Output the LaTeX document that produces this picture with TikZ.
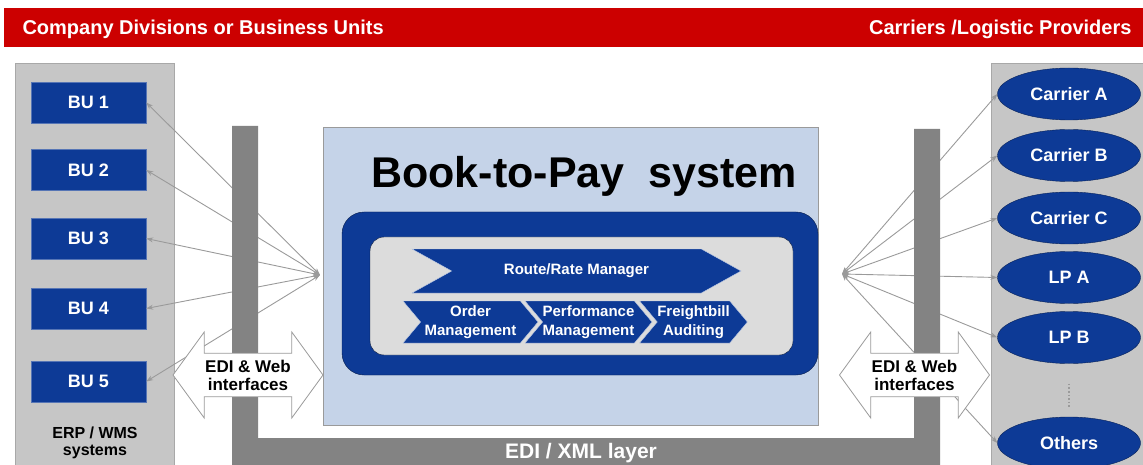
\documentclass[tikz,border=0pt]{standalone}
\usepackage{fontspec}
\setmainfont{Liberation Sans}
\usetikzlibrary{arrows.meta,positioning,shapes.geometric,shapes.symbols,shapes.arrows}
\definecolor{bannerred}{HTML}{CC0000}
\definecolor{bublue}{HTML}{0D3A96}
\definecolor{panelgrey}{HTML}{C6C6C6}
\definecolor{panelline}{HTML}{A8A8A8}
\definecolor{bargrey}{HTML}{838383}
\definecolor{linegrey}{HTML}{9A9A9A}
\definecolor{boxblue}{HTML}{C5D3E8}
\definecolor{innergrey}{HTML}{DCDCDC}

\begin{document}
\begin{tikzpicture}[x=1pt,y=-1pt,
  panel/.style={draw=panelline, fill=panelgrey, inner sep=0pt},
  bubox/.style={draw=bublue!70!white, fill=bublue, text=white, minimum width=115pt, minimum height=41pt, inner sep=0pt, font=\fontsize{18}{20}\selectfont\bfseries},
  carrier/.style={ellipse, draw=bublue!60!black, fill=bublue, text=white, minimum width=143pt, minimum height=52pt, inner sep=0pt, font=\fontsize{18}{20}\selectfont\bfseries},
  link/.style={draw=linegrey, line width=0.9pt, {Stealth[length=7pt,width=5pt]}-{Stealth[length=7pt,width=5pt]}},
  chev/.style={signal, signal from=west, signal to=east, fill=bublue, draw=white!75!bublue, text=white, inner sep=0pt, align=center},
  edi/.style={double arrow, double arrow head extend=21pt, double arrow tip angle=108, minimum height=150pt, minimum width=86pt, inner sep=6pt, fill=white, draw=linegrey, line width=0.8pt, align=center, font=\fontsize{17}{18}\selectfont\bfseries}]
\useasboundingbox (0,0) rectangle (1143,465);

% banner
\node[fill=bannerred, minimum width=1146pt, minimum height=39pt, inner sep=0pt] (banner) at (577,27.5) {};
\node[anchor=base west, text=white, font=\fontsize{20}{24}\selectfont\bfseries] (lefttitle) at (19,35) {Company Divisions or Business Units};
\node[anchor=base east, text=white, font=\fontsize{20}{24}\selectfont\bfseries] (righttitle) at (1135,35) {Carriers /Logistic Providers};

% side panels
\node[panel, minimum width=159pt, minimum height=407pt] (leftpanel) at (94.5,266.5) {};
\node[panel, minimum width=159pt, minimum height=407pt] (rightpanel) at (1070.5,266.5) {};

\node[bubox] (bu1) at (88.5,102.5) {BU 1};
\node[bubox] (bu2) at (88.5,170) {BU 2};
\node[bubox] (bu3) at (88.5,238.5) {BU 3};
\node[bubox] (bu4) at (88.5,308.5) {BU 4};
\node[bubox] (bu5) at (88.5,381.5) {BU 5};
\node[align=center, font=\fontsize{16}{17}\selectfont\bfseries] (erp) at (95,443) {ERP / WMS\\systems};

\node[carrier] (ca) at (1069,94) {Carrier A};
\node[carrier] (cb) at (1069,155.5) {Carrier B};
\node[carrier] (cc) at (1069,218) {Carrier C};
\node[carrier] (lpa) at (1069,277.5) {LP A};
\node[carrier] (lpb) at (1069,337.5) {LP B};
\node[carrier] (oth) at (1069,443) {Others};
\draw[linegrey, line width=1.6pt, dotted, shorten <=20pt, shorten >=8pt] (lpb.south) -- (oth.north);

% links
\coordinate (hubl) at (320,275);
\coordinate (hubr) at (842,274);
\foreach \b in {bu1,bu2,bu3,bu4,bu5}
  \draw[link] (hubl) -- (\b.east);
\foreach \c in {ca,cb,cc,lpa,lpb,oth}
  \draw[link] (hubr) -- (\c.west);

% EDI / XML layer
\fill[bargrey] (232,126) -- (258,126) -- (258,438) -- (914,438) -- (914,129) -- (940,129) -- (940,470) -- (232,470) -- cycle;
\node[anchor=base, text=white, font=\fontsize{21}{24}\selectfont\bfseries] (xml) at (581,458) {EDI / XML layer};

% system
\node[draw=linegrey, fill=boxblue, minimum width=495pt, minimum height=298pt, inner sep=0pt] (system) at (570.5,276) {};
\node[anchor=base, font=\fontsize{43}{48}\selectfont\bfseries] (title) at (584,188) {Book-to-Pay\ \ system};
\node[draw=bublue!50!black, fill=bublue, rounded corners=22pt, minimum width=476pt, minimum height=163pt, inner sep=0pt] (core) at (580,293.5) {};
\node[draw=bublue!40!black, fill=innergrey, rounded corners=14pt, minimum width=423pt, minimum height=118pt, inner sep=0pt] (modules) at (581.5,296) {};
\node[chev, signal pointer angle=58, minimum width=329pt, minimum height=44pt, font=\fontsize{15}{18}\selectfont\bfseries] (route) at (576.5,271) {Route/Rate Manager};
\node[chev, signal pointer angle=100, minimum width=135pt, minimum height=42pt, font=\fontsize{15}{19}\selectfont\bfseries] (order) at (470.5,322) {Order\\Management};
\node[chev, signal pointer angle=100, minimum width=127pt, minimum height=42pt, font=\fontsize{15}{19}\selectfont\bfseries] (perf) at (588.5,322) {Performance\\Management};
\node[chev, signal pointer angle=100, minimum width=103pt, minimum height=42pt, font=\fontsize{15}{19}\selectfont\bfseries] (audit) at (693.5,322) {Freightbill\\Auditing};

% interfaces
\node[edi] (webl) at (248,375) {EDI \& Web\\interfaces};
\node[edi] (webr) at (914.5,375) {EDI \& Web\\interfaces};
\end{tikzpicture}
\end{document}
